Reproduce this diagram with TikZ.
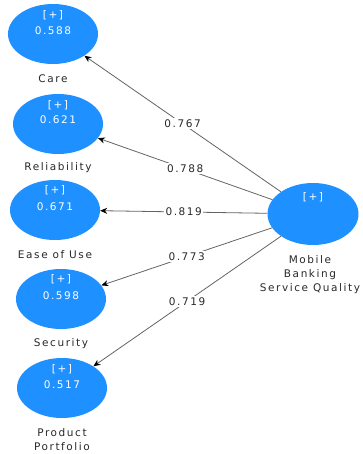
\documentclass[tikz,border=0pt]{standalone}
\usepackage{fontspec}
\setmainfont{DejaVu Sans}[LetterSpace=15]
\usetikzlibrary{shapes.geometric,arrows.meta}
\definecolor{lvblue}{RGB}{30,144,255}
\definecolor{edgegray}{RGB}{100,100,100}
\definecolor{txtgray}{RGB}{40,40,40}
\begin{document}
\begin{tikzpicture}[x=1pt,y=-1pt,
  lv/.style={ellipse,fill=lvblue,draw=none,minimum width=90pt,minimum height=60pt,inner sep=0pt},
  intext/.style={text=white,font=\fontsize{10.5}{12}\selectfont,inner sep=0pt},
  lvname/.style={text=txtgray,font=\fontsize{10.5}{14}\selectfont,align=center,inner sep=0pt},
  path/.style={draw=edgegray,line width=0.8pt,-{Stealth[length=7pt,width=6pt,color=black]}},
  coef/.style={midway,fill=white,text=txtgray,font=\fontsize{10.5}{12}\selectfont,inner sep=1.5pt}
]
\useasboundingbox (0,0) rectangle (362,454);

% latent variables
\node[lv] (care) at (53,34) {};
\node[lv] (rel)  at (58,124) {};
\node[lv] (ease) at (55,210) {};
\node[lv] (sec)  at (61,299) {};
\node[lv] (port) at (62,388) {};
\node[lv,minimum width=91pt,minimum height=62pt] (mb) at (313,214) {};

% inner texts
\node[intext] (careplus) at (53,15) {[+]};
\node[intext] (careval)  at (53,31) {0.588};
\node[intext] (relplus)  at (58,105) {[+]};
\node[intext] (relval)   at (58,120) {0.621};
\node[intext] (easeplus) at (55,190) {[+]};
\node[intext] (easeval)  at (55,207) {0.671};
\node[intext] (secplus)  at (61,279) {[+]};
\node[intext] (secval)   at (61,296) {0.598};
\node[intext] (portplus) at (62,369) {[+]};
\node[intext] (portval)  at (62,385) {0.517};
\node[intext] (mbplus)   at (313,197) {[+]};

% names
\node[lvname] (carename) at (53,79) {Care};
\node[lvname] (relname)  at (58,168) {Reliability};
\node[lvname] (easename) at (55,255) {Ease of Use};
\node[lvname] (secname)  at (61,344) {Security};
\node[lvname] (portname) at (62,440) {Product\\Portfolio};
\node[lvname] (mbname)   at (310,275) {Mobile\\Banking\\Service Quality};

% paths
\draw[path] (mb) -- node[coef] {0.767} (care);
\draw[path] (mb) -- node[coef] {0.788} (rel);
\draw[path] (mb) -- node[coef] {0.819} (ease);
\draw[path] (mb) -- node[coef] {0.773} (sec);
\draw[path] (mb) -- node[coef] {0.719} (port);
\end{tikzpicture}
\end{document}
